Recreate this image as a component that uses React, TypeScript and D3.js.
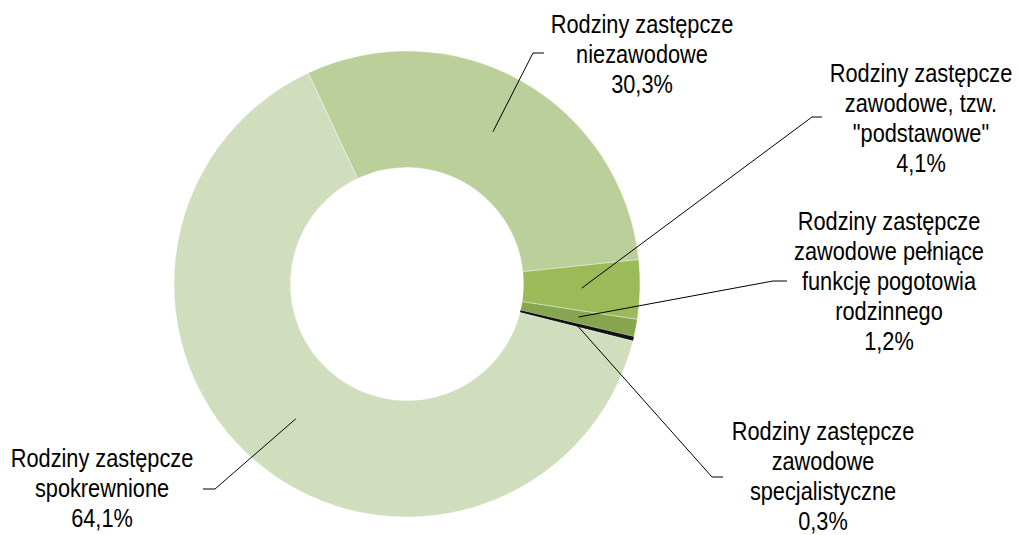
import React from "react";
import * as d3 from "d3";

const categories = [
  "Rodziny zastępcze niezawodowe",
  "Rodziny zastępcze zawodowe, tzw. \"podstawowe\"",
  "Rodziny zastępcze zawodowe pełniące funkcję pogotowia rodzinnego",
  "Rodziny zastępcze zawodowe specjalistyczne",
  "Rodziny zastępcze spokrewnione",
];
const labelLines = [
  ["Rodziny zastępcze", "niezawodowe"],
  ["Rodziny zastępcze", "zawodowe, tzw.", "\"podstawowe\""],
  ["Rodziny zastępcze", "zawodowe pełniące", "funkcję pogotowia", "rodzinnego"],
  ["Rodziny zastępcze", "zawodowe", "specjalistyczne"],
  ["Rodziny zastępcze", "spokrewnione"],
];
const values = [30.3, 4.1, 1.2, 0.3, 64.1];
const colors = ["#BBCF9A", "#9BBB59", "#87A44F", "#111111", "#D0DEBE"];

// label layout (text center x, first baseline y, leader elbow, leader end)
const labelLayout = [
  { cx: 642, y0: 33, elbow: [533, 53], end: [544, 53] },
  { cx: 921, y0: 82, elbow: [812, 117], end: [822, 117] },
  { cx: 889, y0: 230, elbow: [773, 281], end: [787, 281] },
  { cx: 823, y0: 440, elbow: [712, 477], end: [723, 477] },
  { cx: 102, y0: 467, elbow: [215, 489], end: [203, 489] },
];

const W = 1019;
const H = 535;
const CX = 407;
const CY = 284;
const R_OUT = 233;
const R_IN = 116.5;
const START = (-25.1 * Math.PI) / 180;
const LINE_H = 30;
const FONT_SIZE = 25;
const SCALE_X = 0.87;
const FONT = "'Liberation Sans', Arial, sans-serif";

const fmt = (v: number) => v.toFixed(1).replace(".", ",") + "%";

export default function App() {
  const pie = d3
    .pie<number>()
    .sort(null)
    .value((d) => d)
    .startAngle(START)
    .endAngle(START + 2 * Math.PI);
  const arcs = pie(values);
  const arc = d3.arc<d3.PieArcDatum<number>>().innerRadius(R_IN).outerRadius(R_OUT);

  return (
    <svg
      width={W}
      height={H}
      style={{ position: "absolute", left: 0, top: 0, background: "#fff" }}
    >
      <g transform={`translate(${CX},${CY})`}>
        {arcs.map((a, i) => (
          <path
            key={categories[i]}
            d={arc(a) || ""}
            fill={colors[i]}
            stroke={i === 3 ? "none" : "#ffffff"}
            strokeWidth={0.6}
            strokeOpacity={0.6}
          />
        ))}
      </g>
      {arcs.map((a, i) => {
        const [mx, my] = arc.centroid(a);
        const L = labelLayout[i];
        const pts = `${CX + mx},${CY + my} ${L.elbow[0]},${L.elbow[1]} ${L.end[0]},${L.end[1]}`;
        return (
          <polyline key={"l" + i} points={pts} fill="none" stroke="#000" strokeWidth={1} />
        );
      })}
      {labelLines.map((lines, i) => {
        const L = labelLayout[i];
        const all = [...lines, fmt(values[i])];
        return (
          <text
            key={"t" + i}
            transform={`translate(${L.cx},0) scale(${SCALE_X},1)`}
            textAnchor="middle"
            fontFamily={FONT}
            fontSize={FONT_SIZE}
            fill="#000"
          >
            {all.map((s, j) => (
              <tspan key={j} x={0} y={L.y0 + j * LINE_H}>
                {s}
              </tspan>
            ))}
          </text>
        );
      })}
    </svg>
  );
}
